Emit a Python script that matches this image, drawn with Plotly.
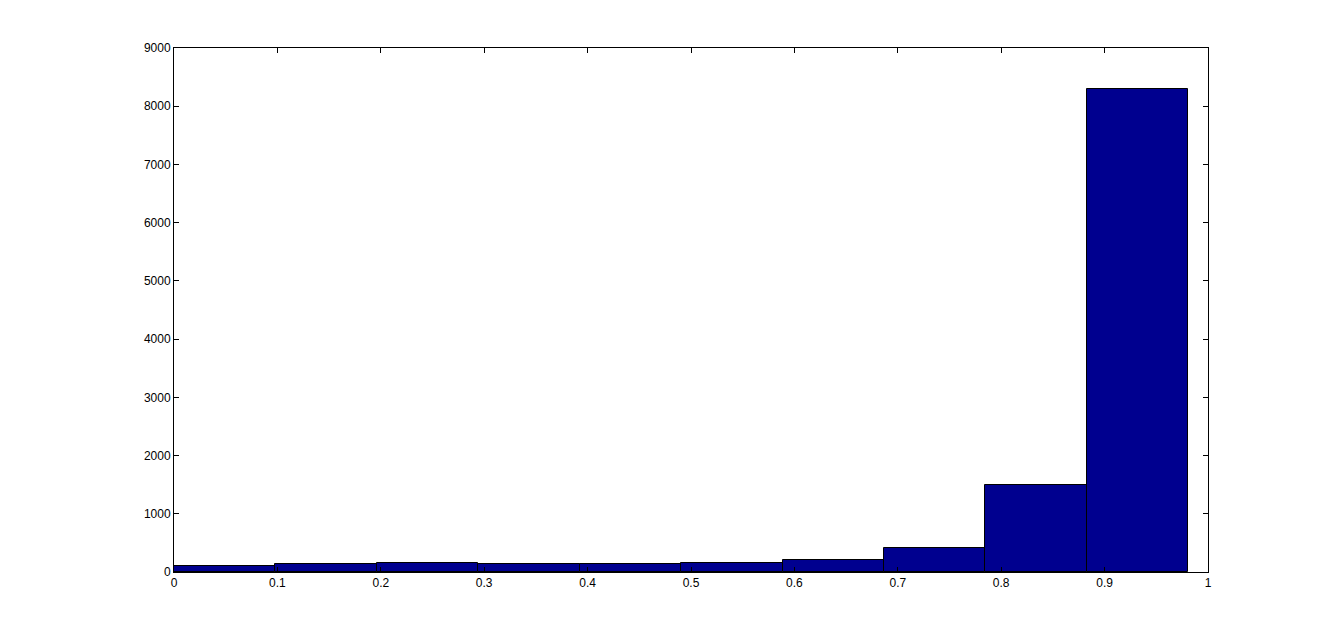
import plotly.graph_objects as go

bin_start = 0.0
bin_width = 0.0981
counts = [95, 135, 150, 135, 135, 150, 200, 420, 1500, 8290]
x_ticks = [0, 0.1, 0.2, 0.3, 0.4, 0.5, 0.6, 0.7, 0.8, 0.9, 1]
x_tick_labels = ["0", "0.1", "0.2", "0.3", "0.4", "0.5", "0.6", "0.7", "0.8", "0.9", "1"]
y_ticks = [0, 1000, 2000, 3000, 4000, 5000, 6000, 7000, 8000, 9000]

centers = [bin_start + bin_width * (i + 0.5) for i in range(len(counts))]

fig = go.Figure(go.Bar(
    x=centers, y=counts, width=[bin_width] * len(counts),
    marker=dict(color="#00008F", line=dict(color="black", width=1)),
))

axis_common = dict(
    showgrid=False, zeroline=False, showline=True, linecolor="black", linewidth=1,
    mirror="ticks", ticks="inside", ticklen=5, tickcolor="black",
    tickfont=dict(family="Liberation Sans, Arial, sans-serif", size=12, color="black"),
)

fig.update_layout(
    width=1335, height=643,
    margin=dict(l=166, r=135, t=40, b=79),
    paper_bgcolor="white", plot_bgcolor="white",
    showlegend=False, bargap=0,
    xaxis=dict(range=[0, 1], tickvals=x_ticks, ticktext=x_tick_labels, **axis_common),
    yaxis=dict(range=[0, 9000], tickvals=y_ticks, ticktext=[str(v) for v in y_ticks], **axis_common),
)

fig.write_html("out.html")
